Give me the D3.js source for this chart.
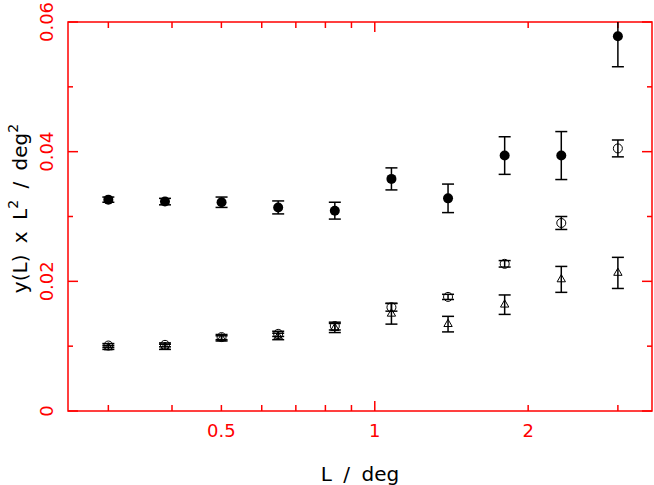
<!DOCTYPE html>
<html>
<head>
<meta charset="utf-8">
<script src="https://cdn.jsdelivr.net/npm/d3@7"></script>
<style>
body { margin: 0; background: #fff; }
text { font-family: "DejaVu Sans", sans-serif; }
</style>
</head>
<body>
<div id="chart"></div>
<script>
// angular scale L in degrees
var scales = [0.3, 0.3875, 0.5004, 0.6463, 0.8348, 1.0782, 1.3925, 1.7985, 2.3229, 3.0];

// filled circles
var filledVal = [0.0326, 0.0323, 0.0322, 0.0314, 0.0309, 0.0358, 0.0328, 0.0394, 0.0394, 0.0578];
var filledErr = [0.0004, 0.0005, 0.0008, 0.0010, 0.0013, 0.0017, 0.0022, 0.0029, 0.0037, 0.0047];

// open circles
var openVal = [0.0101, 0.0102, 0.0114, 0.0119, 0.0131, 0.0160, 0.0176, 0.0227, 0.0290, 0.0405];
var openErr = [0.0003, 0.0003, 0.0004, 0.0004, 0.0006, 0.0006, 0.0004, 0.0005, 0.0010, 0.0013];

// open triangles
var triVal = [0.0098, 0.0099, 0.0112, 0.0115, 0.0128, 0.0150, 0.0134, 0.0164, 0.0203, 0.0213];
var triErr = [0.0003, 0.0004, 0.0004, 0.0005, 0.0007, 0.0016, 0.0012, 0.0015, 0.0020, 0.0024];

var xTicksMajor = [1];
var xTicksMinor = [0.3, 0.4, 0.5, 0.6, 0.7, 0.8, 0.9, 2, 3];
var xTickLabels = [0.5, 1, 2];
var yTicks = [0, 0.01, 0.02, 0.03, 0.04, 0.05, 0.06];
var yTickLabels = [0, 0.02, 0.04, 0.06];

var margin = { top: 22, right: 2, bottom: 74, left: 68 },
    width = 654 - margin.left - margin.right,
    height = 485 - margin.top - margin.bottom;

var red = "#ff0000";

var svg = d3.select("#chart").append("svg")
    .attr("width", 654)
    .attr("height", 485)
    .append("g")
    .attr("transform", "translate(" + margin.left + "," + margin.top + ")");

var x = d3.scaleLog().domain([0.25, 3.5]).range([0, width]);
var y = d3.scaleLinear().domain([0, 0.06]).range([height, 0]);

svg.append("clipPath").attr("id", "clip")
    .append("rect").attr("width", width).attr("height", height);

// frame
svg.append("rect")
    .attr("width", width).attr("height", height)
    .attr("fill", "none").attr("stroke", red).attr("stroke-width", 1.5);

// x ticks (bottom and top, pointing inward)
function xTick(v, len) {
    svg.append("line").attr("x1", x(v)).attr("x2", x(v))
        .attr("y1", height).attr("y2", height - len)
        .attr("stroke", red).attr("stroke-width", 1.5);
    svg.append("line").attr("x1", x(v)).attr("x2", x(v))
        .attr("y1", 0).attr("y2", len)
        .attr("stroke", red).attr("stroke-width", 1.5);
}
xTicksMajor.forEach(function(v) { xTick(v, 10); });
xTicksMinor.forEach(function(v) { xTick(v, 6); });

svg.selectAll(".xlab").data(xTickLabels).enter().append("text")
    .attr("x", function(d) { return x(d); })
    .attr("y", height + 26)
    .attr("text-anchor", "middle")
    .attr("fill", red)
    .style("font-size", "18px")
    .text(function(d) { return d; });

// y ticks (left and right)
yTicks.forEach(function(v, i) {
    var len = (i % 2 == 0) ? 10 : 5;
    svg.append("line").attr("x1", 0).attr("x2", len)
        .attr("y1", y(v)).attr("y2", y(v))
        .attr("stroke", red).attr("stroke-width", 1.5);
    svg.append("line").attr("x1", width).attr("x2", width - len)
        .attr("y1", y(v)).attr("y2", y(v))
        .attr("stroke", red).attr("stroke-width", 1.5);
});

svg.selectAll(".ylab").data(yTickLabels).enter().append("text")
    .attr("transform", function(d) { return "translate(-15," + y(d) + ") rotate(-90)"; })
    .attr("text-anchor", "middle")
    .attr("fill", red)
    .style("font-size", "18px")
    .text(function(d) { return d; });

// axis titles
svg.append("text")
    .attr("x", width / 2)
    .attr("y", height + 70)
    .attr("text-anchor", "middle")
    .style("font-size", "20px")
    .style("word-spacing", "5px")
    .text("L / deg");

var yt = svg.append("text")
    .attr("transform", "translate(-41," + (height / 2 - 8) + ") rotate(-90)")
    .attr("text-anchor", "middle")
    .style("font-size", "20px")
    .style("word-spacing", "5px");
yt.append("tspan").text("y(L) x L");
yt.append("tspan").attr("dy", -9).style("font-size", "14px").text("2");
yt.append("tspan").attr("dy", 9).text(" / deg");
yt.append("tspan").attr("dy", -9).style("font-size", "14px").text("2");

// data
var plot = svg.append("g").attr("clip-path", "url(#clip)");

function errorBars(vals, errs) {
    var g = plot.append("g").attr("stroke", "#000").attr("stroke-width", 1.5);
    vals.forEach(function(v, i) {
        var cx = x(scales[i]);
        g.append("line").attr("x1", cx).attr("x2", cx)
            .attr("y1", y(v - errs[i])).attr("y2", y(v + errs[i]));
        g.append("line").attr("x1", cx - 6).attr("x2", cx + 6)
            .attr("y1", y(v - errs[i])).attr("y2", y(v - errs[i]));
        g.append("line").attr("x1", cx - 6).attr("x2", cx + 6)
            .attr("y1", y(v + errs[i])).attr("y2", y(v + errs[i]));
    });
}

errorBars(triVal, triErr);
errorBars(openVal, openErr);
errorBars(filledVal, filledErr);

plot.selectAll(".tri").data(triVal).enter().append("path")
    .attr("d", d3.symbol().type(d3.symbolTriangle).size(30))
    .attr("transform", function(d, i) { return "translate(" + x(scales[i]) + "," + y(d) + ")"; })
    .attr("fill", "none").attr("stroke", "#000").attr("stroke-width", 1);

plot.selectAll(".open").data(openVal).enter().append("circle")
    .attr("cx", function(d, i) { return x(scales[i]); })
    .attr("cy", function(d) { return y(d); })
    .attr("r", 4.5)
    .attr("fill", "none").attr("stroke", "#000").attr("stroke-width", 1);

plot.selectAll(".filled").data(filledVal).enter().append("circle")
    .attr("cx", function(d, i) { return x(scales[i]); })
    .attr("cy", function(d) { return y(d); })
    .attr("r", 5)
    .attr("fill", "#000");
</script>
</body>
</html>
